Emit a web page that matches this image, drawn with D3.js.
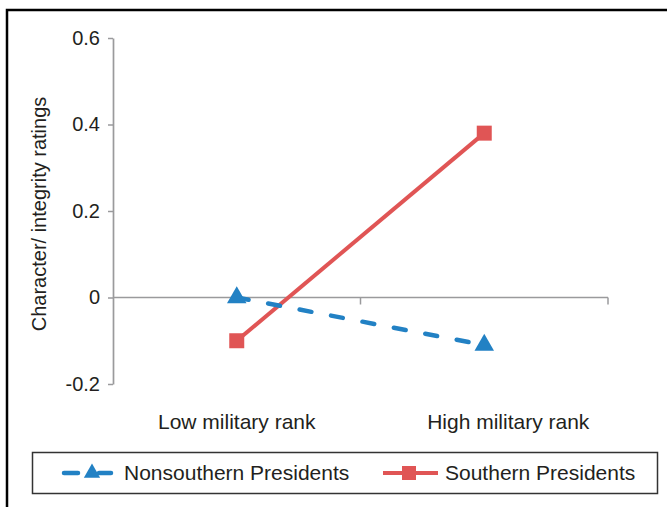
<!DOCTYPE html>
<html>
<head>
<meta charset="utf-8">
<script src="https://cdn.jsdelivr.net/npm/d3@7/dist/d3.min.js"></script>
<style>
  html, body { margin: 0; padding: 0; background: #fff; }
  svg { display: block; }
  text { font-family: "Liberation Sans", Arial, Helvetica, sans-serif; fill: #231f20; }
</style>
</head>
<body>
<svg id="chart" width="667" height="507"></svg>
<script>
// ---- data ----
const categories = ["Low military rank", "High military rank"];
const seriesNames = ["Nonsouthern Presidents", "Southern Presidents"];
const nonsouthernValues = [0.0, -0.11];
const southernValues = [-0.10, 0.38];
const yTickValues = [-0.2, 0, 0.2, 0.4, 0.6];
const yTitle = "Character/ integrity ratings";

// ---- layout / style ----
const W = 667, H = 507;
const plot = { left: 113, right: 608, top: 38, bottom: 384 };
const axisColor = "#9a9a9c";
const blue = "#2281c4";
const red = "#e05555";
const labelOffsets = [0, 24];

const svg = d3.select("#chart");
svg.append("rect").attr("width", W).attr("height", H).attr("fill", "#fff");

// outer frame (top and left edges visible)
svg.append("path")
  .attr("d", d3.line()([[7, H], [7, 10], [W, 10]]))
  .attr("fill", "none").attr("stroke", "#000").attr("stroke-width", 2.5);

const x = d3.scaleBand().domain(categories).range([plot.left, plot.right]).padding(0);
const y = d3.scaleLinear().domain([-0.2, 0.6]).range([plot.bottom, plot.top]);
const cx = d => x(d) + x.bandwidth() / 2;

// y axis
const yAxis = d3.axisLeft(y)
  .tickValues(yTickValues)
  .tickSize(5)
  .tickSizeOuter(0)
  .tickPadding(8)
  .tickFormat(d => d === 0 ? "0" : d3.format(".1f")(d).replace("\u2212", "-"));
const gy = svg.append("g").attr("transform", `translate(${plot.left},0)`).call(yAxis);
gy.select(".domain").attr("stroke", axisColor).attr("stroke-width", 1.7);
gy.selectAll(".tick line").attr("stroke", axisColor).attr("stroke-width", 1.5);
gy.selectAll(".tick text")
  .attr("font-size", 20)
  .attr("fill", "#231f20")
  .attr("font-family", "Liberation Sans, Arial, sans-serif");

// x axis at y = 0
const y0 = y(0);
const gx = svg.append("g");
gx.append("line")
  .attr("x1", x.range()[0]).attr("x2", x.range()[1])
  .attr("y1", y0).attr("y2", y0)
  .attr("stroke", axisColor).attr("stroke-width", 1.7);
const boundaries = categories.map(c => x(c)).concat([x.range()[1]]);
gx.selectAll("line.xt").data(boundaries.slice(1)).join("line")
  .attr("class", "xt")
  .attr("x1", d => d).attr("x2", d => d)
  .attr("y1", y0).attr("y2", y0 + 7)
  .attr("stroke", axisColor).attr("stroke-width", 1.5);

// category labels
svg.selectAll("text.cat").data(categories).join("text")
  .attr("class", "cat")
  .attr("x", (d, i) => cx(d) + labelOffsets[i])
  .attr("y", 429)
  .attr("text-anchor", "middle")
  .attr("font-size", 21)
  .text(d => d);

// y title
svg.append("text")
  .attr("transform", `translate(46,${(plot.top + plot.bottom) / 2 + 3}) rotate(-90)`)
  .attr("text-anchor", "middle")
  .attr("font-size", 20)
  .text(yTitle);

// lines
const line = d3.line().x(d => cx(d.c)).y(d => y(d.v));
const southPts = categories.map((c, i) => ({ c, v: southernValues[i] }));
const northPts = categories.map((c, i) => ({ c, v: nonsouthernValues[i] }));

svg.append("path").datum(southPts)
  .attr("d", line)
  .attr("fill", "none").attr("stroke", red).attr("stroke-width", 4);

svg.append("path").datum(northPts)
  .attr("d", line)
  .attr("fill", "none").attr("stroke", blue).attr("stroke-width", 4.5)
  .attr("stroke-dasharray", "12,20").attr("stroke-linecap", "round");

// markers
svg.selectAll("path.sq").data(southPts).join("path")
  .attr("class", "sq")
  .attr("transform", d => `translate(${cx(d.c)},${y(d.v)})`)
  .attr("d", d3.symbol(d3.symbolSquare, 225))
  .attr("fill", red);

svg.selectAll("path.tri").data(northPts).join("path")
  .attr("class", "tri")
  .attr("transform", d => `translate(${cx(d.c)},${y(d.v)})`)
  .attr("d", d3.symbol(d3.symbolTriangle, 165))
  .attr("fill", blue);

// legend
const lg = svg.append("g");
lg.append("rect")
  .attr("x", 32.5).attr("y", 452.5).attr("width", 625).attr("height", 41)
  .attr("fill", "#fff").attr("stroke", "#333").attr("stroke-width", 1.5);
const ly = 473;
// nonsouthern
lg.append("line").attr("x1", 64).attr("x2", 78).attr("y1", ly).attr("y2", ly)
  .attr("stroke", blue).attr("stroke-width", 4.5).attr("stroke-linecap", "round");
lg.append("line").attr("x1", 99).attr("x2", 111).attr("y1", ly).attr("y2", ly)
  .attr("stroke", blue).attr("stroke-width", 4.5).attr("stroke-linecap", "round");
lg.append("path").attr("transform", `translate(92,${ly})`)
  .attr("d", d3.symbol(d3.symbolTriangle, 115)).attr("fill", blue);
lg.append("text").attr("x", 124).attr("y", 480).attr("font-size", 21).text(seriesNames[0]);
// southern
lg.append("line").attr("x1", 383).attr("x2", 438).attr("y1", ly).attr("y2", ly)
  .attr("stroke", red).attr("stroke-width", 4);
lg.append("path").attr("transform", `translate(409,${ly})`)
  .attr("d", d3.symbol(d3.symbolSquare, 196)).attr("fill", red);
lg.append("text").attr("x", 445).attr("y", 480).attr("font-size", 21).text(seriesNames[1]);
</script>
</body>
</html>
